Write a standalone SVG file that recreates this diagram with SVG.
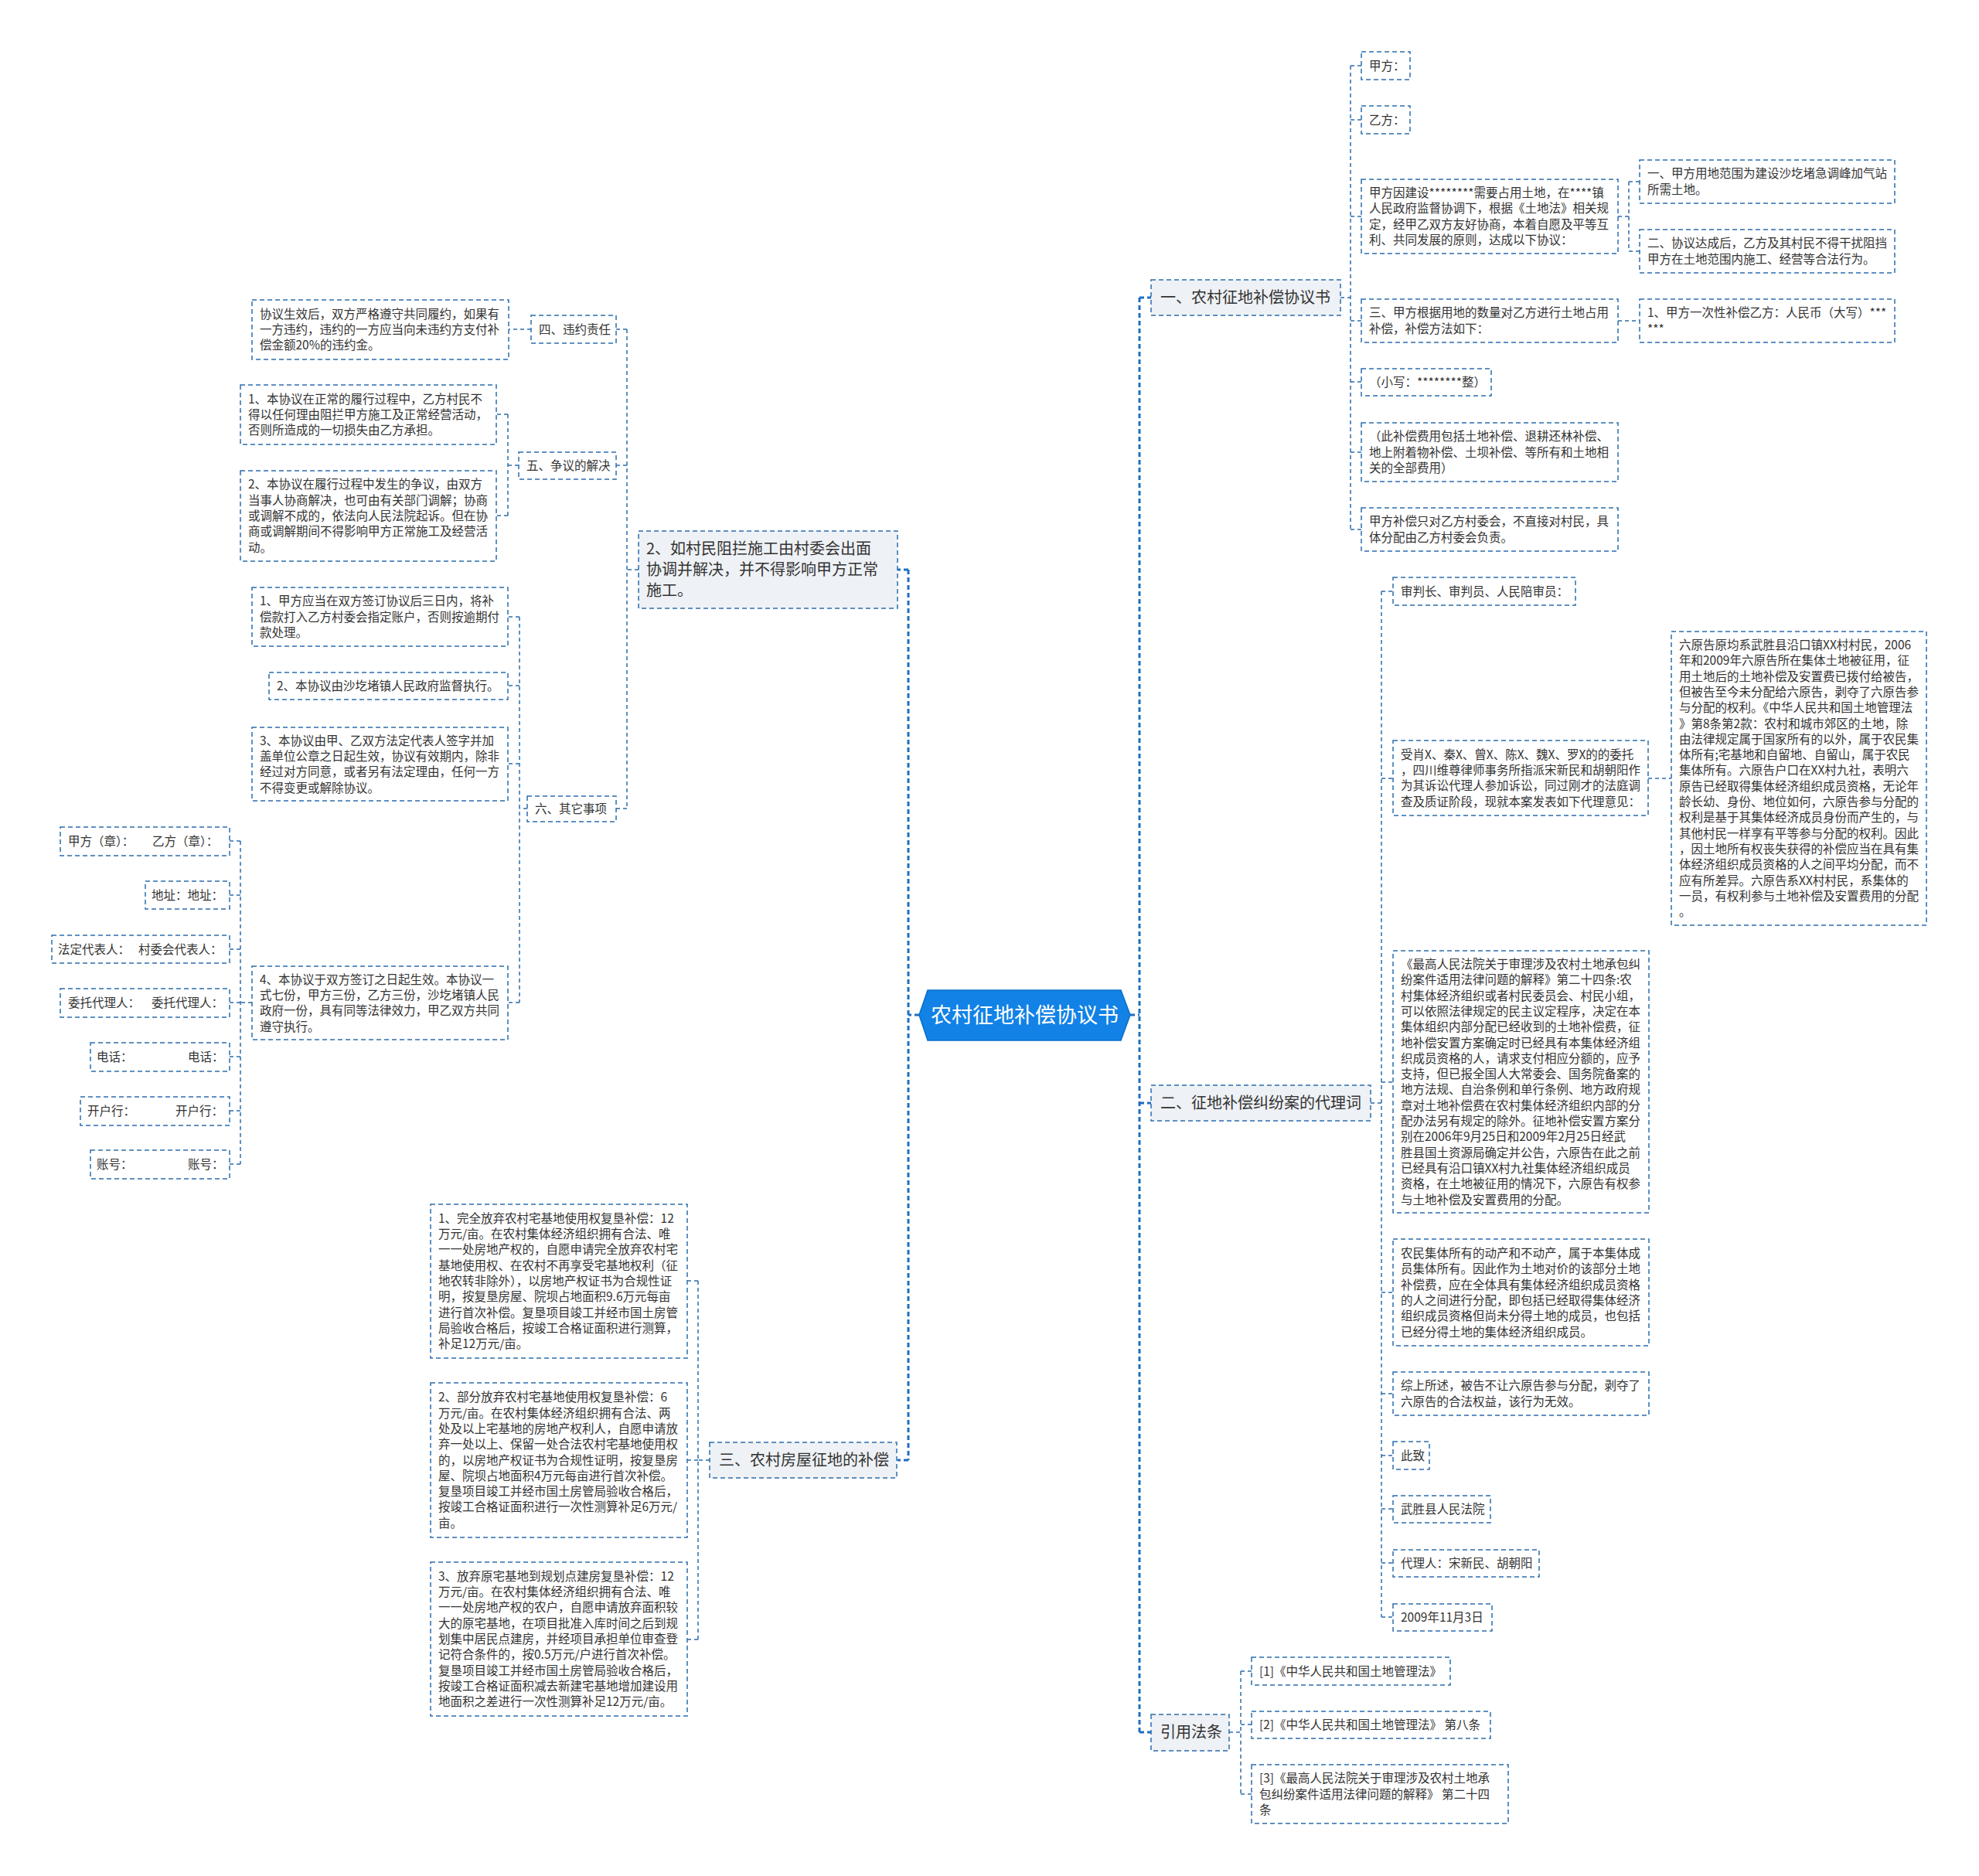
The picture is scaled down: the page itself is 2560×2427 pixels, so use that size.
<svg xmlns="http://www.w3.org/2000/svg" width="2560" height="2427" viewBox="0 0 2560 2427">
<style>
.bg{fill:#ffffff}
.box{fill:#ffffff;stroke:#2b6ead;stroke-width:1.5;stroke-dasharray:6 4}
.l1{fill:#eef1f5;stroke:#2b6ead;stroke-width:1.5;stroke-dasharray:6 4}
.root{fill:#1282e6;stroke:#0b6fc8;stroke-width:1.5}
.t{font-family:"Noto Sans CJK SC","Microsoft YaHei",sans-serif;font-size:15.5px;fill:#333333}
.t1{font-family:"Noto Sans CJK SC","Microsoft YaHei",sans-serif;font-size:20px;fill:#333333}
.tr{font-family:"Noto Sans CJK SC","Microsoft YaHei",sans-serif;font-size:27px;fill:#ffffff}
.conn{fill:none;stroke:#2b6ead;stroke-width:1.5;stroke-dasharray:5 4}
.main{fill:none;stroke:#1f6fc0;stroke-width:3;stroke-dasharray:6 4}
</style>
<rect class="bg" x="0" y="0" width="2560" height="2427"/>

<g id="connectors">
  <path class="main" d="M1462,1313 H1474 M1474,385 V2241 M1474,385 H1489 M1474,1427 H1489 M1474,2241 H1489"/>
  <path class="main" d="M1189,1313 H1175 M1175,737 V1889 M1175,737 H1161 M1175,1889 H1161"/>
  <path class="conn" d="M1734,385 H1747 M1747,85 V685 M1747,85 H1761 M1747,155 H1761 M1747,280 H1761 M1747,415 H1761 M1747,494 H1761 M1747,585 H1761 M1747,685 H1761"/>
  <path class="conn" d="M2093,280 H2107 M2107,235 V325 M2107,235 H2121 M2107,325 H2121 M2093,415 H2121"/>
  <path class="conn" d="M1773,1427 H1787 M1787,765 V2092 M1787,765 H1802 M1787,1007 H1802 M1787,1400 H1802 M1787,1672 H1802 M1787,1803 H1802 M1787,1883 H1802 M1787,1952 H1802 M1787,2022 H1802 M1787,2092 H1802 M2132,1007 H2162"/>
  <path class="conn" d="M1590,2241 H1605 M1605,2162 V2321 M1605,2162 H1619 M1605,2231 H1619 M1605,2321 H1619"/>
  <path class="conn" d="M826,737 H811 M811,426 V1046 M811,426 H797 M811,602 H797 M811,1046 H797 M687,426 H658"/>
  <path class="conn" d="M671,602 H657 M657,536 V667 M657,536 H642 M657,667 H642"/>
  <path class="conn" d="M682,1046 H672 M672,798 V1297 M672,798 H657 M672,887 H657 M672,988 H657 M672,1297 H657"/>
  <path class="conn" d="M326,1297 H311 M311,1088 V1506 M311,1088 H297 M311,1158 H297 M311,1228 H297 M311,1297 H297 M311,1367 H297 M311,1437 H297 M311,1506 H297"/>
  <path class="conn" d="M918,1889 H903 M903,1657 V2121 M903,1657 H889 M903,1889 H889 M903,2121 H889"/>
</g>

<g id="root">
  <polygon class="root" points="1189,1313 1200,1281 1450,1281 1462,1313 1450,1346 1200,1346"/>
  <text class="tr" x="1325.5" y="1323" text-anchor="middle">农村征地补偿协议书</text>
</g>

<!-- Right branch 1 -->
<g id="n1">
  <rect class="l1" x="1489" y="362" width="245" height="46"/>
  <text class="t1" x="1501" y="392">一、农村征地补偿协议书</text>
</g>
<g id="n1a">
  <rect class="box" x="1761" y="67" width="63" height="36"/>
  <text class="t" x="1771" y="90.5">甲方：</text>
</g>
<g id="n1b">
  <rect class="box" x="1761" y="137" width="63" height="36"/>
  <text class="t" x="1771" y="160.5">乙方：</text>
</g>
<g id="n1c">
  <rect class="box" x="1761" y="232" width="332" height="96"/>
  <text class="t"><tspan x="1771" y="255">甲方因建设********需要占用土地，在****镇</tspan><tspan x="1771" dy="20.3">人民政府监督协调下，根据《土地法》相关规</tspan><tspan x="1771" dy="20.3">定，经甲乙双方友好协商，本着自愿及平等互</tspan><tspan x="1771" dy="20.3">利、共同发展的原则，达成以下协议：</tspan></text>
</g>
<g id="n1c1">
  <rect class="box" x="2121" y="207" width="330" height="56"/>
  <text class="t"><tspan x="2131" y="230.4">一、甲方用地范围为建设沙圪堵急调峰加气站</tspan><tspan x="2131" dy="20.3">所需土地。</tspan></text>
</g>
<g id="n1c2">
  <rect class="box" x="2121" y="297" width="330" height="56"/>
  <text class="t"><tspan x="2131" y="320.4">二、协议达成后，乙方及其村民不得干扰阻挡</tspan><tspan x="2131" dy="20.3">甲方在土地范围内施工、经营等合法行为。</tspan></text>
</g>
<g id="n1d">
  <rect class="box" x="1761" y="387" width="332" height="56"/>
  <text class="t"><tspan x="1771" y="410.4">三、甲方根据用地的数量对乙方进行土地占用</tspan><tspan x="1771" dy="20.3">补偿，补偿方法如下：</tspan></text>
</g>
<g id="n1d1">
  <rect class="box" x="2121" y="387" width="330" height="56"/>
  <text class="t"><tspan x="2131" y="410.4">1、甲方一次性补偿乙方：人民币（大写）***</tspan><tspan x="2131" dy="20.3">***</tspan></text>
</g>
<g id="n1e">
  <rect class="box" x="1761" y="477" width="168" height="35"/>
  <text class="t" x="1771" y="500">（小写：********整）</text>
</g>
<g id="n1f">
  <rect class="box" x="1761" y="547" width="332" height="76"/>
  <text class="t"><tspan x="1771" y="570.2">（此补偿费用包括土地补偿、退耕还林补偿、</tspan><tspan x="1771" dy="20.3">地上附着物补偿、土坝补偿、等所有和土地相</tspan><tspan x="1771" dy="20.3">关的全部费用）</tspan></text>
</g>
<g id="n1g">
  <rect class="box" x="1761" y="657" width="332" height="56"/>
  <text class="t"><tspan x="1771" y="680.4">甲方补偿只对乙方村委会，不直接对村民，具</tspan><tspan x="1771" dy="20.3">体分配由乙方村委会负责。</tspan></text>
</g>

<!-- Right branch 2 -->
<g id="n2">
  <rect class="l1" x="1489" y="1404" width="284" height="46"/>
  <text class="t1" x="1501" y="1434">二、征地补偿纠纷案的代理词</text>
</g>
<g id="n2a">
  <rect class="box" x="1802" y="747" width="236" height="36"/>
  <text class="t" x="1812" y="770.5">审判长、审判员、人民陪审员：</text>
</g>
<g id="n2b">
  <rect class="box" x="1802" y="958" width="330" height="97"/>
  <text class="t"><tspan x="1812" y="981.6">受肖X、秦X、曾X、陈X、魏X、罗X的的委托</tspan><tspan x="1812" dy="20.3">，四川维尊律师事务所指派宋新民和胡朝阳作</tspan><tspan x="1812" dy="20.3">为其诉讼代理人参加诉讼，同过刚才的法庭调</tspan><tspan x="1812" dy="20.3">查及质证阶段，现就本案发表如下代理意见：</tspan></text>
</g>
<g id="n2b1">
  <rect class="box" x="2162" y="817" width="330" height="380"/>
  <text class="t"><tspan x="2172" y="840">六原告原均系武胜县沿口镇XX村村民，2006</tspan><tspan x="2172" dy="20.3">年和2009年六原告所在集体土地被征用，征</tspan><tspan x="2172" dy="20.3">用土地后的土地补偿及安置费已拨付给被告，</tspan><tspan x="2172" dy="20.3">但被告至今未分配给六原告，剥夺了六原告参</tspan><tspan x="2172" dy="20.3">与分配的权利。《中华人民共和国土地管理法</tspan><tspan x="2172" dy="20.3">》第8条第2款：农村和城市郊区的土地，除</tspan><tspan x="2172" dy="20.3">由法律规定属于国家所有的以外，属于农民集</tspan><tspan x="2172" dy="20.3">体所有;宅基地和自留地、自留山，属于农民</tspan><tspan x="2172" dy="20.3">集体所有。六原告户口在XX村九社，表明六</tspan><tspan x="2172" dy="20.3">原告已经取得集体经济组织成员资格，无论年</tspan><tspan x="2172" dy="20.3">龄长幼、身份、地位如何，六原告参与分配的</tspan><tspan x="2172" dy="20.3">权利是基于其集体经济成员身份而产生的，与</tspan><tspan x="2172" dy="20.3">其他村民一样享有平等参与分配的权利。因此</tspan><tspan x="2172" dy="20.3">，因土地所有权丧失获得的补偿应当在具有集</tspan><tspan x="2172" dy="20.3">体经济组织成员资格的人之间平均分配，而不</tspan><tspan x="2172" dy="20.3">应有所差异。六原告系XX村村民，系集体的</tspan><tspan x="2172" dy="20.3">一员，有权利参与土地补偿及安置费用的分配</tspan><tspan x="2172" dy="20.3">。</tspan></text>
</g>
<g id="n2c">
  <rect class="box" x="1802" y="1230" width="331" height="339"/>
  <text class="t"><tspan x="1812" y="1253">《最高人民法院关于审理涉及农村土地承包纠</tspan><tspan x="1812" dy="20.3">纷案件适用法律问题的解释》第二十四条:农</tspan><tspan x="1812" dy="20.3">村集体经济组织或者村民委员会、村民小组，</tspan><tspan x="1812" dy="20.3">可以依照法律规定的民主议定程序，决定在本</tspan><tspan x="1812" dy="20.3">集体组织内部分配已经收到的土地补偿费，征</tspan><tspan x="1812" dy="20.3">地补偿安置方案确定时已经具有本集体经济组</tspan><tspan x="1812" dy="20.3">织成员资格的人，请求支付相应分额的，应予</tspan><tspan x="1812" dy="20.3">支持，但已报全国人大常委会、国务院备案的</tspan><tspan x="1812" dy="20.3">地方法规、自治条例和单行条例、地方政府规</tspan><tspan x="1812" dy="20.3">章对土地补偿费在农村集体经济组织内部的分</tspan><tspan x="1812" dy="20.3">配办法另有规定的除外。征地补偿安置方案分</tspan><tspan x="1812" dy="20.3">别在2006年9月25日和2009年2月25日经武</tspan><tspan x="1812" dy="20.3">胜县国土资源局确定并公告，六原告在此之前</tspan><tspan x="1812" dy="20.3">已经具有沿口镇XX村九社集体经济组织成员</tspan><tspan x="1812" dy="20.3">资格，在土地被征用的情况下，六原告有权参</tspan><tspan x="1812" dy="20.3">与土地补偿及安置费用的分配。</tspan></text>
</g>
<g id="n2d">
  <rect class="box" x="1802" y="1603" width="331" height="138"/>
  <text class="t"><tspan x="1812" y="1627">农民集体所有的动产和不动产，属于本集体成</tspan><tspan x="1812" dy="20.3">员集体所有。因此作为土地对价的该部分土地</tspan><tspan x="1812" dy="20.3">补偿费，应在全体具有集体经济组织成员资格</tspan><tspan x="1812" dy="20.3">的人之间进行分配，即包括已经取得集体经济</tspan><tspan x="1812" dy="20.3">组织成员资格但尚未分得土地的成员，也包括</tspan><tspan x="1812" dy="20.3">已经分得土地的集体经济组织成员。</tspan></text>
</g>
<g id="n2e">
  <rect class="box" x="1802" y="1775" width="331" height="56"/>
  <text class="t"><tspan x="1812" y="1798.4">综上所述，被告不让六原告参与分配，剥夺了</tspan><tspan x="1812" dy="20.3">六原告的合法权益，该行为无效。</tspan></text>
</g>
<g id="n2f">
  <rect class="box" x="1802" y="1865" width="47" height="36"/>
  <text class="t" x="1812" y="1888.5">此致</text>
</g>
<g id="n2g">
  <rect class="box" x="1802" y="1935" width="126" height="35"/>
  <text class="t" x="1812" y="1958">武胜县人民法院</text>
</g>
<g id="n2h">
  <rect class="box" x="1802" y="2005" width="189" height="35"/>
  <text class="t" x="1812" y="2028">代理人：宋新民、胡朝阳</text>
</g>
<g id="n2i">
  <rect class="box" x="1802" y="2075" width="128" height="35"/>
  <text class="t" x="1812" y="2098">2009年11月3日</text>
</g>

<!-- Right branch 3 -->
<g id="n3">
  <rect class="l1" x="1489" y="2218" width="101" height="47"/>
  <text class="t1" x="1501" y="2248">引用法条</text>
</g>
<g id="n3a">
  <rect class="box" x="1619" y="2144" width="257" height="36"/>
  <text class="t" x="1629" y="2167.5">[1]《中华人民共和国土地管理法》</text>
</g>
<g id="n3b">
  <rect class="box" x="1619" y="2214" width="309" height="35"/>
  <text class="t" x="1629" y="2237">[2]《中华人民共和国土地管理法》 第八条</text>
</g>
<g id="n3c">
  <rect class="box" x="1619" y="2283" width="332" height="76"/>
  <text class="t"><tspan x="1629" y="2306.2">[3]《最高人民法院关于审理涉及农村土地承</tspan><tspan x="1629" dy="20.3">包纠纷案件适用法律问题的解释》 第二十四</tspan><tspan x="1629" dy="20.3">条</tspan></text>
</g>

<!-- Left branch 4 -->
<g id="n4">
  <rect class="l1" x="826" y="687" width="335" height="100"/>
  <text class="t1"><tspan x="836" y="717">2、如村民阻拦施工由村委会出面</tspan><tspan x="836" dy="27">协调并解决，并不得影响甲方正常</tspan><tspan x="836" dy="27">施工。</tspan></text>
</g>
<g id="n4a">
  <rect class="box" x="687" y="408" width="110" height="36"/>
  <text class="t" x="697" y="431.5">四、违约责任</text>
</g>
<g id="n4a1">
  <rect class="box" x="326" y="388" width="332" height="77"/>
  <text class="t"><tspan x="336" y="411.7">协议生效后，双方严格遵守共同履约，如果有</tspan><tspan x="336" dy="20.3">一方违约，违约的一方应当向未违约方支付补</tspan><tspan x="336" dy="20.3">偿金额20%的违约金。</tspan></text>
</g>
<g id="n4b">
  <rect class="box" x="671" y="585" width="126" height="35"/>
  <text class="t" x="681" y="608">五、争议的解决</text>
</g>
<g id="n4b1">
  <rect class="box" x="311" y="498" width="331" height="77"/>
  <text class="t"><tspan x="321" y="521.7">1、本协议在正常的履行过程中，乙方村民不</tspan><tspan x="321" dy="20.3">得以任何理由阻拦甲方施工及正常经营活动，</tspan><tspan x="321" dy="20.3">否则所造成的一切损失由乙方承担。</tspan></text>
</g>
<g id="n4b2">
  <rect class="box" x="311" y="609" width="331" height="117"/>
  <text class="t"><tspan x="321" y="632.4">2、本协议在履行过程中发生的争议，由双方</tspan><tspan x="321" dy="20.3">当事人协商解决，也可由有关部门调解；协商</tspan><tspan x="321" dy="20.3">或调解不成的，依法向人民法院起诉。但在协</tspan><tspan x="321" dy="20.3">商或调解期间不得影响甲方正常施工及经营活</tspan><tspan x="321" dy="20.3">动。</tspan></text>
</g>
<g id="n4c">
  <rect class="box" x="682" y="1030" width="115" height="33"/>
  <text class="t" x="692" y="1052">六、其它事项</text>
</g>
<g id="n4c1">
  <rect class="box" x="326" y="760" width="331" height="76"/>
  <text class="t"><tspan x="336" y="783.2">1、甲方应当在双方签订协议后三日内，将补</tspan><tspan x="336" dy="20.3">偿款打入乙方村委会指定账户，否则按逾期付</tspan><tspan x="336" dy="20.3">款处理。</tspan></text>
</g>
<g id="n4c2">
  <rect class="box" x="348" y="870" width="309" height="35"/>
  <text class="t" x="358" y="893">2、本协议由沙圪堵镇人民政府监督执行。</text>
</g>
<g id="n4c3">
  <rect class="box" x="326" y="941" width="331" height="95"/>
  <text class="t"><tspan x="336" y="963.6">3、本协议由甲、乙双方法定代表人签字并加</tspan><tspan x="336" dy="20.3">盖单位公章之日起生效，协议有效期内，除非</tspan><tspan x="336" dy="20.3">经过对方同意，或者另有法定理由，任何一方</tspan><tspan x="336" dy="20.3">不得变更或解除协议。</tspan></text>
</g>
<g id="n4c4">
  <rect class="box" x="326" y="1250" width="331" height="95"/>
  <text class="t"><tspan x="336" y="1272.6">4、本协议于双方签订之日起生效。本协议一</tspan><tspan x="336" dy="20.3">式七份，甲方三份，乙方三份，沙圪堵镇人民</tspan><tspan x="336" dy="20.3">政府一份，具有同等法律效力，甲乙双方共同</tspan><tspan x="336" dy="20.3">遵守执行。</tspan></text>
</g>
<g id="s1">
  <rect class="box" x="78" y="1070" width="219" height="37"/>
  <text class="t" y="1093.5"><tspan x="88">甲方（章）：</tspan><tspan x="197">乙方（章）：</tspan></text>
</g>
<g id="s2">
  <rect class="box" x="188" y="1140" width="109" height="36"/>
  <text class="t" x="196" y="1163.5">地址：地址：</text>
</g>
<g id="s3">
  <rect class="box" x="67" y="1210" width="230" height="36"/>
  <text class="t" y="1233.5"><tspan x="75">法定代表人：</tspan><tspan x="179">村委会代表人：</tspan></text>
</g>
<g id="s4">
  <rect class="box" x="78" y="1279" width="219" height="37"/>
  <text class="t" y="1302.5"><tspan x="88">委托代理人：</tspan><tspan x="196">委托代理人：</tspan></text>
</g>
<g id="s5">
  <rect class="box" x="117" y="1349" width="180" height="37"/>
  <text class="t" y="1372.5"><tspan x="125">电话：</tspan><tspan x="243">电话：</tspan></text>
</g>
<g id="s6">
  <rect class="box" x="104" y="1419" width="193" height="37"/>
  <text class="t" y="1442.5"><tspan x="113">开户行：</tspan><tspan x="227">开户行：</tspan></text>
</g>
<g id="s7">
  <rect class="box" x="117" y="1488" width="180" height="37"/>
  <text class="t" y="1511.5"><tspan x="125">账号：</tspan><tspan x="243">账号：</tspan></text>
</g>

<!-- Left branch 5 -->
<g id="n5">
  <rect class="l1" x="918" y="1866" width="242" height="46"/>
  <text class="t1" x="930" y="1896">三、农村房屋征地的补偿</text>
</g>
<g id="n5a">
  <rect class="box" x="557" y="1558" width="332" height="199"/>
  <text class="t"><tspan x="567" y="1581.8">1、完全放弃农村宅基地使用权复垦补偿：12</tspan><tspan x="567" dy="20.3">万元/亩。在农村集体经济组织拥有合法、唯</tspan><tspan x="567" dy="20.3">一一处房地产权的，自愿申请完全放弃农村宅</tspan><tspan x="567" dy="20.3">基地使用权、在农村不再享受宅基地权利（征</tspan><tspan x="567" dy="20.3">地农转非除外），以房地产权证书为合规性证</tspan><tspan x="567" dy="20.3">明，按复垦房屋、院坝占地面积9.6万元每亩</tspan><tspan x="567" dy="20.3">进行首次补偿。复垦项目竣工并经市国土房管</tspan><tspan x="567" dy="20.3">局验收合格后，按竣工合格证面积进行测算，</tspan><tspan x="567" dy="20.3">补足12万元/亩。</tspan></text>
</g>
<g id="n5b">
  <rect class="box" x="557" y="1789" width="332" height="200"/>
  <text class="t"><tspan x="567" y="1813.3">2、部分放弃农村宅基地使用权复垦补偿：6</tspan><tspan x="567" dy="20.3">万元/亩。在农村集体经济组织拥有合法、两</tspan><tspan x="567" dy="20.3">处及以上宅基地的房地产权利人，自愿申请放</tspan><tspan x="567" dy="20.3">弃一处以上、保留一处合法农村宅基地使用权</tspan><tspan x="567" dy="20.3">的，以房地产权证书为合规性证明，按复垦房</tspan><tspan x="567" dy="20.3">屋、院坝占地面积4万元每亩进行首次补偿。</tspan><tspan x="567" dy="20.3">复垦项目竣工并经市国土房管局验收合格后，</tspan><tspan x="567" dy="20.3">按竣工合格证面积进行一次性测算补足6万元/</tspan><tspan x="567" dy="20.3">亩。</tspan></text>
</g>
<g id="n5c">
  <rect class="box" x="557" y="2021" width="332" height="199"/>
  <text class="t"><tspan x="567" y="2044.8">3、放弃原宅基地到规划点建房复垦补偿：12</tspan><tspan x="567" dy="20.3">万元/亩。在农村集体经济组织拥有合法、唯</tspan><tspan x="567" dy="20.3">一一处房地产权的农户，自愿申请放弃面积较</tspan><tspan x="567" dy="20.3">大的原宅基地，在项目批准入库时间之后到规</tspan><tspan x="567" dy="20.3">划集中居民点建房，并经项目承担单位审查登</tspan><tspan x="567" dy="20.3">记符合条件的，按0.5万元/户进行首次补偿。</tspan><tspan x="567" dy="20.3">复垦项目竣工并经市国土房管局验收合格后，</tspan><tspan x="567" dy="20.3">按竣工合格证面积减去新建宅基地增加建设用</tspan><tspan x="567" dy="20.3">地面积之差进行一次性测算补足12万元/亩。</tspan></text>
</g>
</svg>
